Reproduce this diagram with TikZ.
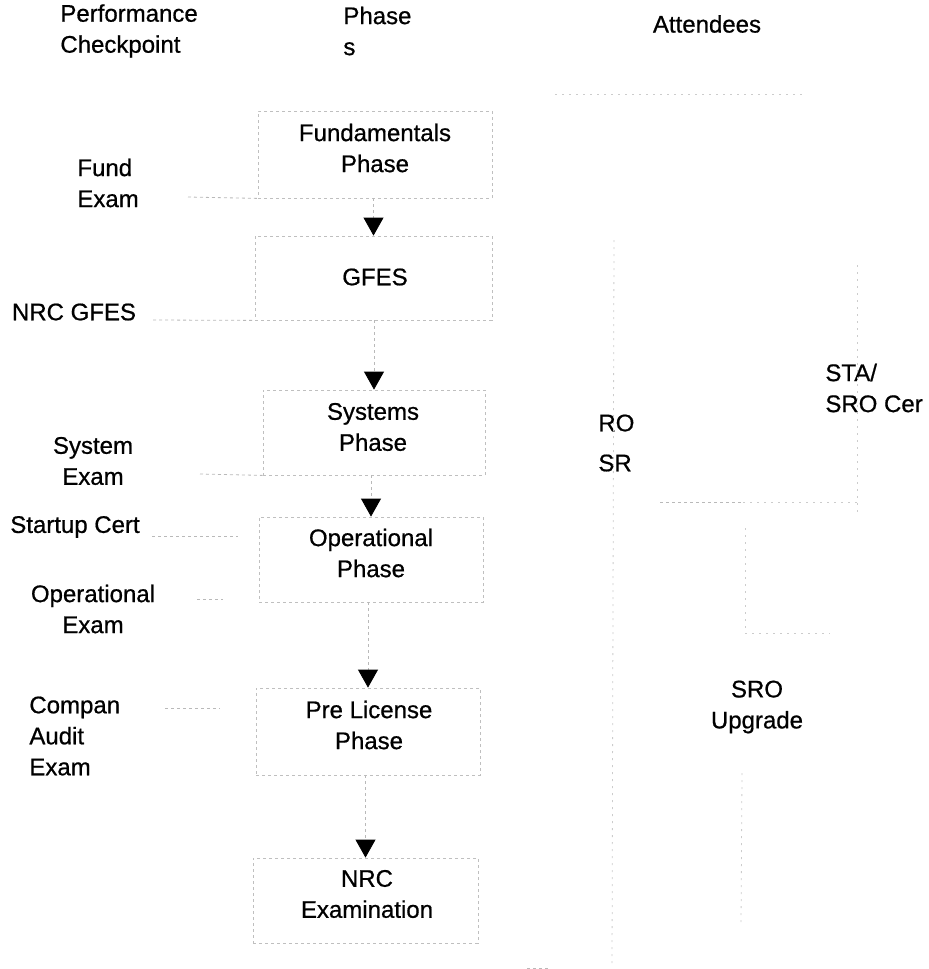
\documentclass[tikz,border=0pt]{standalone}
\usepackage{fontspec}
\setmainfont{Liberation Sans}[FakeBold=0.7]
\usetikzlibrary{arrows.meta}
\begin{document}
\begin{tikzpicture}[x=0.5pt,y=-0.5pt,
  lbl/.style={inner sep=0pt, font=\fontsize{12}{15.5}\selectfont, align=center},
  lbll/.style={lbl, align=left, anchor=west},
  box/.style={draw=gray!50, dash pattern=on 1.5pt off 1.5pt, line width=0.4pt, inner sep=0pt},
  conn/.style={draw=gray!55, dash pattern=on 1.5pt off 1.5pt, line width=0.4pt},
  faint/.style={draw=gray!40, dash pattern=on 1pt off 2.5pt, line width=0.4pt},
  arr/.style={conn, -{Triangle[width=10pt,length=9pt,color=black]}}]
\useasboundingbox (0,0) rectangle (928,969);

% headers
\node[lbll] (hperf) at (60,31) {Performance\\Checkpoint};
\node[lbll] (hphase) at (343,31) {Phase\\s};
\node[lbl] (hatt) at (707,24) {Attendees};

% phase boxes
\node[box, minimum width=117pt, minimum height=43.5pt] (fundbox) at (375,154.5) {};
\node[box, minimum width=118.5pt, minimum height=42pt] (gfesbox) at (373.5,278) {};
\node[box, minimum width=111pt, minimum height=42.5pt] (sysbox) at (374,432.5) {};
\node[box, minimum width=112pt, minimum height=42.5pt] (opbox) at (371,559.5) {};
\node[box, minimum width=112pt, minimum height=43.5pt] (prebox) at (368,731.5) {};
\node[box, minimum width=112.5pt, minimum height=42.5pt] (nrcbox) at (365.5,900.5) {};

\node[lbl] (fundtxt) at (375,148) {Fundamentals\\Phase};
\node[lbl] (gfestxt) at (375,277) {GFES};
\node[lbl] (systxt) at (373,427) {Systems\\Phase};
\node[lbl] (optxt) at (371,553) {Operational\\Phase};
\node[lbl] (pretxt) at (369,725) {Pre License\\Phase};
\node[lbl] (nrctxt) at (367,894) {NRC\\Examination};

% arrows
\draw[arr] (fundbox.south -| gfesbox.north) -- (gfesbox.north);
\draw[arr] (gfesbox.south -| sysbox.north) -- (sysbox.north);
\draw[arr] (sysbox.south -| opbox.north) -- (opbox.north);
\draw[arr] (opbox.south -| prebox.north) -- (prebox.north);
\draw[arr] (prebox.south -| nrcbox.north) -- (nrcbox.north);

% checkpoint labels
\node[lbll] (fundex) at (77,183) {Fund\\Exam};
\node[lbl] (nrcgfes) at (74,312) {NRC GFES};
\node[lbl] (sysex) at (93,461) {System\\Exam};
\node[lbl] (startup) at (75,527) {Startup Cert};
\node[lbl] (opex) at (93,609) {Operational\\Exam};
\node[lbll] (compan) at (29,736) {Compan\\Audit\\Exam};

% checkpoint connectors
\coordinate (c1) at (188,197);
\draw[conn] (c1) -- (fundbox.south west);
\coordinate (c2) at (153,320);
\draw[conn] (c2) -- (gfesbox.south west);
\coordinate (c3) at (200,474);
\draw[conn] (c3) -- (sysbox.south west);
\coordinate (c4a) at (152,536);
\coordinate (c4b) at (238,536);
\draw[conn] (c4a) -- (c4b);
\coordinate (c5a) at (197,599);
\coordinate (c5b) at (223,599);
\draw[conn] (c5a) -- (c5b);
\coordinate (c6a) at (165,708);
\coordinate (c6b) at (220,708);
\draw[conn] (c6a) -- (c6b);

% attendees
\node[lbll] (rosr) at (598,443) {RO\\[4.5pt]SR};
\node[lbll] (stasro) at (825,388) {STA/\\SRO Cer};
\node[lbl] (sroup) at (757,707) {SRO\\Upgrade};

% faint attendee lines
\draw[faint] (555,94) -- (805,94);
\draw[faint] (614,240) -- (612,967);
\draw[faint] (857,265) -- (857,515);
\draw[conn] (660,502) -- (743,502);
\draw[faint] (743,502) -- (857,502);
\draw[faint] (745,528) -- (745,633);
\draw[faint] (745,633) -- (830,633);
\draw[faint] (742,773) -- (741,925);
\draw[conn] (527,968) -- (550,968);
\end{tikzpicture}
\end{document}
